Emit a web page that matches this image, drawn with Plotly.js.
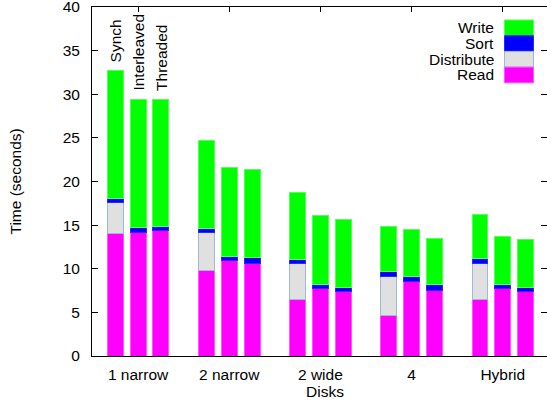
<!DOCTYPE html>
<html>
<head>
<meta charset="utf-8">
<script src="https://cdn.plot.ly/plotly-3.0.1.min.js"></script>
<style>html,body{margin:0;padding:0;background:#fff;}#chart{width:547px;height:400px;}</style>
</head>
<body>
<div id="chart"></div>
<script>
// ---- data ----
var groups = ['1 narrow', '2 narrow', '2 wide', '4', 'Hybrid'];
var methods = ['Synch', 'Interleaved', 'Threaded'];
// values ordered group by group: Synch, Interleaved, Threaded
var readVals       = [14.05, 14.2, 14.35,  9.75, 10.9, 10.65,  6.45, 7.7, 7.35,  4.6, 8.55, 7.55,  6.5, 7.7, 7.35];
var distributeVals = [3.5, null, null,  4.35, null, null,  4.1, null, null,  4.55, null, null,  4.1, null, null];
var sortVals       = [0.55, 0.55, 0.55,  0.55, 0.55, 0.6,  0.55, 0.55, 0.55,  0.55, 0.55, 0.6,  0.55, 0.55, 0.55];
var writeVals      = [14.6, 14.7, 14.55,  10.0, 10.2, 10.1,  7.65, 7.8, 7.7,  5.1, 5.45, 5.35,  5.05, 5.45, 5.4];
var yTickVals = [0, 5, 10, 15, 20, 25, 30, 35, 40];
var yTitle = 'Time (seconds)';
var xTitle = 'Disks';

// ---- layout helpers ----
var W = 547, H = 400;
var L = 92, R = 547, T = 7, B = 356;
function px2x(px) { return (px - L) / (R - L); }
function py2y(py) { return (B - py) / (B - T); }
var FONT = 'Liberation Sans, Arial, sans-serif';
var FS = 15.5;

var xs = [], tot = [];
for (var g = 0; g < groups.length; g++) {
  for (var k = 0; k < methods.length; k++) {
    xs.push(g * 4 + (k - 1));
  }
}
for (var i = 0; i < xs.length; i++) {
  tot.push((readVals[i] || 0) + (distributeVals[i] || 0) + (sortVals[i] || 0) + (writeVals[i] || 0));
}

var series = [
  {name: 'Read', y: readVals, color: '#ff00ff', line: '#ff55ff'},
  {name: 'Distribute', y: distributeVals, color: '#e0e0e0', line: '#9db9d6'},
  {name: 'Sort', y: sortVals, color: '#0000ff', line: '#2a2aff'},
  {name: 'Write', y: writeVals, color: '#00ff00', line: '#55ff55'}
];

var traces = series.map(function (s) {
  return {
    type: 'bar', x: xs, y: s.y, name: s.name, width: 0.7,
    marker: {color: s.color, line: {color: s.line, width: 1}},
    showlegend: false, hoverinfo: 'skip'
  };
});

var annotations = [];
// method labels above first group's bars
for (var k = 0; k < methods.length; k++) {
  annotations.push({
    x: xs[k], y: tot[k], xref: 'x', yref: 'y', text: methods[k],
    textangle: -90, showarrow: false, xanchor: 'center', yanchor: 'bottom',
    yshift: 6, font: {family: FONT, size: FS, color: '#000'}
  });
}
// y title
annotations.push({
  x: px2x(15), y: 0.5, xref: 'paper', yref: 'paper', text: yTitle,
  textangle: -90, showarrow: false, xanchor: 'center', yanchor: 'middle',
  font: {family: FONT, size: FS, color: '#000'}
});
// x title
annotations.push({
  x: px2x(325), y: py2y(391), xref: 'paper', yref: 'paper', text: xTitle,
  showarrow: false, xanchor: 'center', yanchor: 'middle',
  font: {family: FONT, size: FS, color: '#000'}
});

// custom legend (text right, swatch on right)
var shapes = [];
var legendOrder = [3, 2, 1, 0];
var rowTop = 20, rowH = 15.7;
legendOrder.forEach(function (si, r) {
  var s = series[si];
  var y0 = rowTop + r * rowH, y1 = y0 + rowH;
  shapes.push({
    type: 'rect', xref: 'paper', yref: 'paper',
    x0: px2x(504.5), x1: px2x(533.5), y0: py2y(y1), y1: py2y(y0),
    fillcolor: s.color, line: {color: s.line, width: 1}
  });
  annotations.push({
    x: px2x(495), y: py2y((y0 + y1) / 2), xref: 'paper', yref: 'paper',
    text: s.name, showarrow: false, xanchor: 'right', yanchor: 'middle',
    height: 15, valign: 'middle', borderpad: 0,
    font: {family: FONT, size: FS, color: '#000'}
  });
});

var tickvals = groups.map(function (_, g) { return g * 4; });
var xrange = [-2.02, 17.94];

var layout = {
  width: W, height: H,
  margin: {l: L, r: W - R, t: T, b: H - B, pad: 0},
  paper_bgcolor: '#fff', plot_bgcolor: '#fff',
  barmode: 'stack',
  showlegend: false,
  font: {family: FONT, size: FS, color: '#000'},
  xaxis: {
    range: xrange, tickvals: tickvals, ticktext: groups, ticks: '',
    showline: true, linecolor: '#000', linewidth: 1, mirror: true,
    showgrid: false, zeroline: false,
    ticklabelstandoff: 4,
    tickfont: {family: FONT, size: FS, color: '#000'}
  },
  xaxis2: {
    overlaying: 'x', side: 'top', anchor: 'y', range: xrange, tickvals: tickvals,
    showticklabels: false, ticks: 'inside', ticklen: 5, tickcolor: '#000',
    showline: true, linecolor: '#000', linewidth: 1, showgrid: false, zeroline: false
  },
  yaxis: {
    range: [0, 40], tickvals: yTickVals, ticks: 'inside', ticklen: 6, tickcolor: '#000',
    showline: true, linecolor: '#000', linewidth: 1, mirror: 'ticks',
    showgrid: false, zeroline: false, ticklabelstandoff: 8, automargin: false,
    ticklabeloverflow: 'allow',
    tickfont: {family: FONT, size: FS, color: '#000'}
  },
  shapes: shapes,
  annotations: annotations
};

// invisible trace to activate xaxis2
traces.push({type: 'scatter', x: [0], y: [0], xaxis: 'x2', yaxis: 'y', mode: 'markers',
  marker: {opacity: 0}, showlegend: false, hoverinfo: 'skip'});

Plotly.newPlot('chart', traces, layout, {staticPlot: true, displayModeBar: false});
</script>
</body>
</html>
